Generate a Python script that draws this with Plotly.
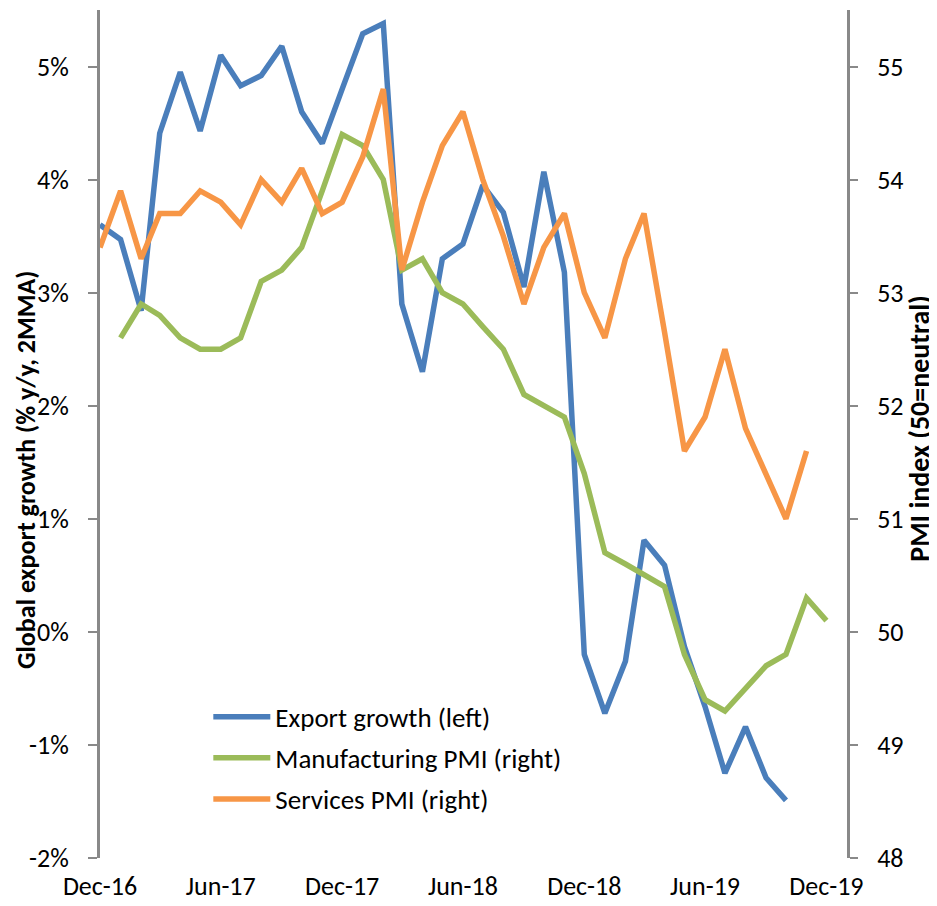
import pandas as pd
import plotly.graph_objects as go

# monthly, Dec-16 .. Dec-19
months = pd.date_range("2016-12-01", "2019-12-01", freq="MS")

export_growth = [3.60, 3.47, 2.84, 4.41, 4.95, 4.43, 5.10, 4.83, 4.92, 5.18, 4.60, 4.32,
                 4.80, 5.29, 5.38, 2.90, 2.30, 3.30, 3.43, 3.95, 3.71, 3.05, 4.07, 3.18,
                 -0.20, -0.72, -0.26, 0.81, 0.59, -0.13, -0.66, -1.25, -0.84, -1.29, -1.49]
manufacturing_pmi = [None, 52.6, 52.9, 52.8, 52.6, 52.5, 52.5, 52.6, 53.1, 53.2, 53.4, 53.9,
                     54.4, 54.3, 54.0, 53.2, 53.3, 53.0, 52.9, 52.7, 52.5, 52.1, 52.0, 51.9,
                     51.4, 50.7, 50.6, 50.5, 50.4, 49.8, 49.4, 49.3, 49.5, 49.7, 49.8, 50.3, 50.1]
services_pmi = [53.4, 53.9, 53.3, 53.7, 53.7, 53.9, 53.8, 53.6, 54.0, 53.8, 54.1, 53.7,
                53.8, 54.2, 54.8, 53.2, 53.8, 54.3, 54.6, 54.0, 53.5, 52.9, 53.4, 53.7,
                53.0, 52.6, 53.3, 53.7, 52.65, 51.6, 51.9, 52.5, 51.8, 51.4, 51.0, 51.6]

tick_dates = ["2016-12-01", "2017-06-01", "2017-12-01", "2018-06-01",
              "2018-12-01", "2019-06-01", "2019-12-01"]
tick_labels = ["Dec-16", "Jun-17", "Dec-17", "Jun-18", "Dec-18", "Jun-19", "Dec-19"]
left_ticks = [-2, -1, 0, 1, 2, 3, 4, 5]
right_ticks = [48, 49, 50, 51, 52, 53, 54, 55]

FONT = "Carlito, Calibri, Lato, sans-serif"
AXIS_GREY = "#898989"
x_range = ["2016-12-01", "2020-01-01"]

fig = go.Figure()
fig.add_trace(go.Scatter(x=months[:len(export_growth)], y=export_growth, mode="lines",
                         name="Export growth (left)", legendgroup="a",
                         line=dict(color="#4A7EBB", width=5.5)))
fig.add_trace(go.Scatter(x=months, y=manufacturing_pmi, mode="lines", yaxis="y2",
                         name="Manufacturing PMI (right)", legendgroup="b",
                         line=dict(color="#9BBB59", width=5.5)))
fig.add_trace(go.Scatter(x=months[:len(services_pmi)], y=services_pmi, mode="lines", yaxis="y2",
                         name="Services PMI (right)", legendgroup="c",
                         line=dict(color="#F79646", width=5.5)))

# the page body has an 8px margin, so the figure is 8px smaller than the window
fig.update_layout(
    width=929, height=898,
    margin=dict(l=92, r=90, t=2, b=48),
    plot_bgcolor="white", paper_bgcolor="white",
    font=dict(family=FONT, size=26, color="black"),
    showlegend=True,
    legend=dict(x=0.145, y=0.195, xanchor="left", yanchor="top",
                bgcolor="rgba(0,0,0,0)", font=dict(size=27),
                tracegroupgap=3, itemwidth=57),
    xaxis=dict(type="date", range=x_range, tickmode="array", tickvals=tick_dates,
               ticktext=tick_labels, showline=False, showgrid=False, zeroline=False,
               ticks="", ticklabelstandoff=10, automargin=False),
    # axis line with tick marks sitting on the 0% line
    xaxis2=dict(type="date", range=x_range, overlaying="x", anchor="free",
                position=2 / 7.5, tickmode="array", tickvals=tick_dates,
                showticklabels=False, showline=True, linecolor=AXIS_GREY, linewidth=2.5,
                ticks="outside", ticklen=8, tickwidth=2, tickcolor=AXIS_GREY,
                showgrid=False, zeroline=False, automargin=False),
    yaxis=dict(range=[-2, 5.5], tickmode="array", tickvals=left_ticks,
               ticktext=[f"{v}%" for v in left_ticks], showgrid=False, zeroline=False,
               showline=True, linecolor=AXIS_GREY, linewidth=3,
               ticks="outside", ticklen=9, tickwidth=2, tickcolor=AXIS_GREY,
               ticklabelstandoff=14, automargin=False),
    yaxis2=dict(range=[48, 55.5], overlaying="y", side="right", tickmode="array",
                tickvals=right_ticks, showgrid=False, zeroline=False,
                showline=True, linecolor=AXIS_GREY, linewidth=3,
                ticks="outside", ticklen=8, tickwidth=2, tickcolor=AXIS_GREY,
                ticklabelstandoff=14, automargin=False),
)

# axis titles placed where the reference has them
fig.add_annotation(text="<b>Global export growth (% y/y, 2MMA)</b>", textangle=-90,
                   xref="paper", yref="paper", x=-0.099, y=0.4575,
                   xanchor="center", yanchor="middle", showarrow=False,
                   borderpad=0, font=dict(size=26))
fig.add_annotation(text="<b>PMI index (50=neutral)</b>", textangle=-90,
                   xref="paper", yref="paper", x=1.096, y=0.507,
                   xanchor="center", yanchor="middle", showarrow=False,
                   borderpad=0, font=dict(size=28))

fig.write_html("out.html")
